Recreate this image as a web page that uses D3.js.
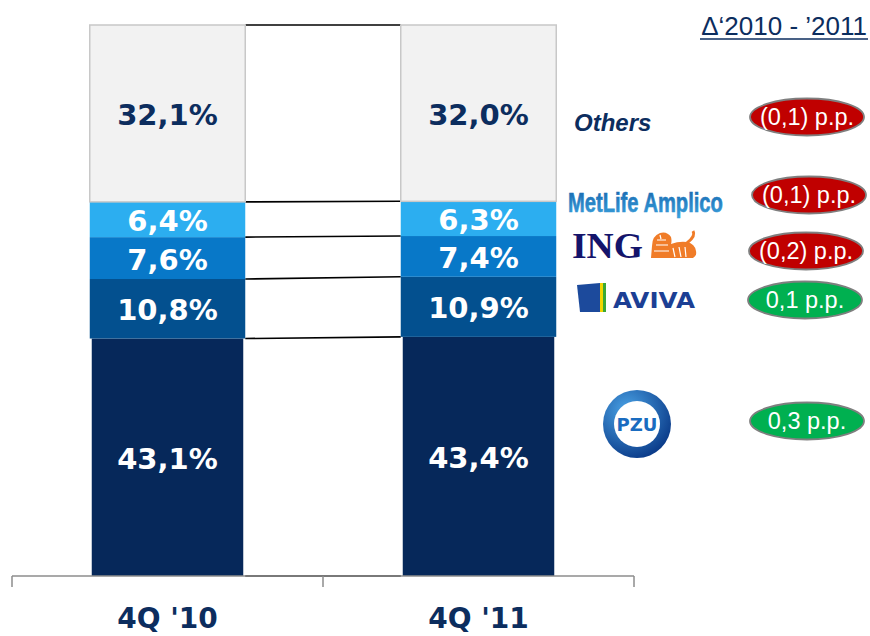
<!DOCTYPE html>
<html>
<head>
<meta charset="utf-8">
<script src="https://cdn.jsdelivr.net/npm/d3@7"></script>
<style>
  body { margin: 0; background: #fff; }
  svg { display: block; }
</style>
</head>
<body>
<div id="chart"></div>
<script>
// Market shares, bottom to top
const categories = ["4Q '10", "4Q '11"];
const companies = ["PZU", "AVIVA", "ING", "MetLife Amplico", "Others"];
const share2010 = [43.1, 10.8, 7.6, 6.4, 32.1];
const share2011 = [43.4, 10.9, 7.4, 6.3, 32.0];
const shareLabels2010 = ["43,1%", "10,8%", "7,6%", "6,4%", "32,1%"];
const shareLabels2011 = ["43,4%", "10,9%", "7,4%", "6,3%", "32,0%"];
const deltaLabels = ["0,3 p.p.", "0,1 p.p.", "(0,2) p.p.", "(0,1) p.p.", "(0,1) p.p."];
const headerText = "\u0394\u20182010 - \u20192011";

const width = 870, height = 636;
const colors = ["#06285a", "#03508f", "#0878c8", "#2caef0", "#f2f2f2"];
const navy = "#0c2d5e";
const valueFont = "'DejaVu Sans', Verdana, sans-serif";

const svg = d3.select('#chart')
    .append('svg')
    .attr('width', width)
    .attr('height', height);

const x = d3.scaleBand()
    .domain(categories)
    .range([12, 634])
    .padding(0);

const y = d3.scaleLinear()
    .domain([0, 100])
    .range([576, 25]);

const barW = x.bandwidth() * 0.5;

// cumulative stacks
const series = [share2010, share2011];
const labels = [shareLabels2010, shareLabels2011];
const stacks = series.map(vals => {
    let acc = 0;
    return vals.map(v => { const s = { y0: acc, y1: acc + v }; acc += v; return s; });
});

// connector lines between the bars
const left = x(categories[0]) + (x.bandwidth() - barW) / 2 + barW;
const right = x(categories[1]) + (x.bandwidth() - barW) / 2;
svg.append('g')
    .selectAll('line')
    .data(companies.map((c, i) => i))
    .enter()
    .append('line')
    .attr('x1', left)
    .attr('x2', right)
    .attr('y1', i => y(stacks[0][i].y1))
    .attr('y2', i => y(stacks[1][i].y1))
    .attr('stroke', '#000')
    .attr('stroke-width', 1.6);
svg.append('line')
    .attr('x1', left).attr('x2', right)
    .attr('y1', y(stacks[0][0].y0)).attr('y2', y(stacks[1][0].y0))
    .attr('stroke', '#000').attr('stroke-width', 1.6);

// bars
categories.forEach((cat, ci) => {
    const bx = x(cat) + (x.bandwidth() - barW) / 2;
    const g = svg.append('g');
    g.selectAll('rect')
        .data(stacks[ci])
        .enter()
        .append('rect')
        .attr('x', (d, i) => i === 0 ? bx + 2 : bx)
        .attr('width', (d, i) => i === 0 ? barW - 4 : barW)
        .attr('y', d => y(d.y1))
        .attr('height', d => y(d.y0) - y(d.y1))
        .attr('fill', (d, i) => colors[i])
        .attr('stroke', (d, i) => i === 4 ? '#c8c8c8' : 'none')
        .attr('stroke-width', 1.5);
    g.selectAll('text')
        .data(stacks[ci])
        .enter()
        .append('text')
        .attr('x', bx + barW / 2)
        .attr('y', d => (y(d.y0) + y(d.y1)) / 2 + 1)
        .attr('dy', '0.36em')
        .attr('text-anchor', 'middle')
        .attr('font-family', valueFont)
        .attr('font-weight', 'bold')
        .attr('font-size', 29)
        .attr('fill', (d, i) => i === 4 ? navy : '#fff')
        .text((d, i) => labels[ci][i]);
});

// category axis
const axis = svg.append('g').attr('transform', `translate(0,${y(0)})`);
axis.call(d3.axisBottom(x).tickSize(0).tickPadding(0))
    .call(g => g.select('.domain').remove())
    .selectAll('text')
    .attr('y', 52)
    .attr('dy', 0)
    .attr('font-family', valueFont)
    .attr('font-weight', 'bold')
    .attr('font-size', 28)
    .attr('fill', navy);
axis.append('line')
    .attr('x1', 12).attr('x2', 634)
    .attr('stroke', '#8c8c8c').attr('stroke-width', 1.5);
axis.selectAll('line.sep')
    .data([x(categories[0]), x(categories[1]), x(categories[1]) + x.bandwidth()])
    .enter()
    .append('line')
    .attr('class', 'sep')
    .attr('x1', d => d).attr('x2', d => d)
    .attr('y1', 0).attr('y2', 11)
    .attr('stroke', '#8c8c8c').attr('stroke-width', 1.5);

// header
svg.append('text')
    .attr('x', 867).attr('y', 35)
    .attr('text-anchor', 'end')
    .attr('font-family', "'Liberation Sans', Arial, sans-serif")
    .attr('font-size', 26)
    .attr('fill', navy)
    .text(headerText);
svg.append('line')
    .attr('x1', 700).attr('x2', 868)
    .attr('y1', 39).attr('y2', 39)
    .attr('stroke', navy).attr('stroke-width', 1.5);

// delta pills (row positions are layout, not data)
const pillY = [421, 300, 251, 195, 117];
const pillX = [807, 805, 806, 809, 807];
const pills = svg.append('g')
    .selectAll('g')
    .data(deltaLabels)
    .enter()
    .append('g')
    .attr('transform', (d, i) => `translate(${pillX[i]},${pillY[i]})`);
pills.append('ellipse')
    .attr('rx', 57).attr('ry', 18.5)
    .attr('fill', d => d.startsWith('(') ? '#c00000' : '#00b050')
    .attr('stroke', '#7f7f7f').attr('stroke-width', 1.8);
pills.append('text')
    .attr('text-anchor', 'middle')
    .attr('dy', '0.36em')
    .attr('font-family', "'Liberation Sans', Arial, sans-serif")
    .attr('font-size', 23.5)
    .attr('fill', '#fff')
    .text(d => d);

// squeeze a text horizontally to a given width
function fitText(sel, x0, y0, w) {
    const len = sel.node().getComputedTextLength();
    sel.attr('x', 0).attr('y', 0)
        .attr('transform', `translate(${x0},${y0}) scale(${w / len},1)`);
}

// company names / logos
svg.append('text')
    .attr('x', 574).attr('y', 131)
    .attr('font-family', "'Liberation Sans', Arial, sans-serif")
    .attr('font-weight', 'bold')
    .attr('font-style', 'italic')
    .attr('font-size', 24)
    .attr('fill', navy)
    .text(companies[4]);

const defs = svg.append('defs');
const mg = defs.append('linearGradient').attr('id', 'metGrad')
    .attr('x1', 0).attr('y1', 0).attr('x2', 0).attr('y2', 1);
mg.append('stop').attr('offset', '0%').attr('stop-color', '#1565ad');
mg.append('stop').attr('offset', '100%').attr('stop-color', '#3aa0dc');
svg.append('text')
    .attr('font-family', "'Liberation Sans Narrow', 'Liberation Sans', Arial, sans-serif")
    .attr('font-weight', 'bold')
    .attr('font-size', 27)
    .attr('fill', 'url(#metGrad)')
    .attr('stroke', 'url(#metGrad)')
    .attr('stroke-width', 0.6)
    .text(companies[3])
    .call(fitText, 568, 212, 155);

// ING
svg.append('text')
    .attr('font-family', "'Liberation Serif', 'Times New Roman', serif")
    .attr('font-weight', 'bold')
    .attr('font-size', 35)
    .attr('fill', '#14146b')
    .text(companies[2])
    .call(fitText, 572, 258, 71);
const lion = svg.append('g').attr('transform', 'translate(649,232)').attr('fill', '#f07c28');
lion.append('path')
    .attr('d', 'M2,26 L3,14 Q3,4 11,1 Q18,-1 22,5 Q23,9 22,12 Q30,9 38,10 Q46,12 47,19 Q48,24 44,26 Z');
lion.append('path')
    .attr('d', 'M38,11 Q47,4 44,-1')
    .attr('fill', 'none').attr('stroke', '#f07c28').attr('stroke-width', 3);
lion.append('path')
    .attr('d', 'M8,8 L17,8 M7,13 L19,13 M5,19 L20,19 M24,16 L26,25 M30,15 L32,25 M36,15 L37,25 M11,3 L12,7')
    .attr('stroke', '#fff').attr('stroke-width', 1.2).attr('fill', 'none');

// AVIVA
svg.append('path').attr('d', 'M577,285 L600,283 L600,312 L580,312 Z').attr('fill', '#1c4a9c');
svg.append('rect').attr('x', 600).attr('y', 283).attr('width', 3).attr('height', 29).attr('fill', '#f2d500');
svg.append('rect').attr('x', 603).attr('y', 283).attr('width', 3).attr('height', 29).attr('fill', '#3aa935');
svg.append('text')
    .attr('font-family', "'DejaVu Sans', Arial, sans-serif")
    .attr('font-weight', 'bold')
    .attr('font-size', 22)
    .attr('fill', '#1c3f94')
    .text(companies[1])
    .call(fitText, 613, 308, 82);

// PZU
const pg = defs.append('radialGradient').attr('id', 'pzuGrad')
    .attr('cx', '35%').attr('cy', '30%').attr('r', '75%');
pg.append('stop').attr('offset', '0%').attr('stop-color', '#4aa3e6');
pg.append('stop').attr('offset', '100%').attr('stop-color', '#0a3a88');
svg.append('circle').attr('cx', 637).attr('cy', 424).attr('r', 34).attr('fill', 'url(#pzuGrad)');
svg.append('circle').attr('cx', 637).attr('cy', 424).attr('r', 23).attr('fill', '#fff');
svg.append('text')
    .attr('x', 637).attr('y', 431)
    .attr('text-anchor', 'middle')
    .attr('font-family', "'DejaVu Sans', Arial, sans-serif")
    .attr('font-weight', 'bold')
    .attr('font-size', 18)
    .attr('fill', '#1a6cc0')
    .text(companies[0]);
</script>
</body>
</html>
